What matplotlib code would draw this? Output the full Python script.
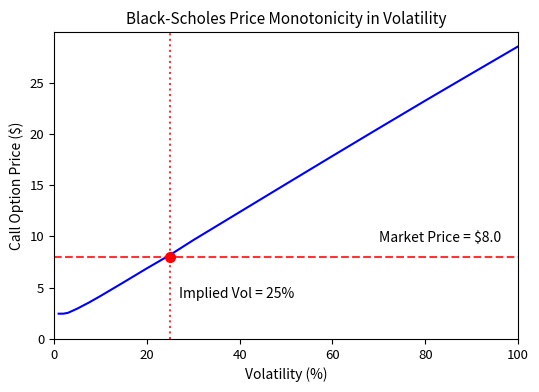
import matplotlib.pyplot as plt

plt.rcParams['font.family'] = ['Noto Sans CJK JP', 'DejaVu Sans']

# values
vol = [1, 2, 3, 5, 7.5, 10, 15, 20, 25, 30, 40, 50, 60, 70, 80, 90, 100]
price = [2.47, 2.47, 2.55, 2.96, 3.55, 4.19, 5.53, 6.89, 8.2, 9.64, 12.38, 15.12,
         17.85, 20.56, 23.25, 25.9, 28.54]
market_price = 8.0
implied_vol = 25

fig = plt.figure(figsize=(5.39, 3.92), dpi=100)
ax = fig.add_axes([54 / 539, 53 / 392, 464 / 539, 307 / 392])
ax.plot(vol, price, 'b-')
ax.axhline(market_price, color='r', linestyle='--', alpha=0.8)
ax.axvline(implied_vol, color='r', linestyle=':', alpha=0.8)
ax.plot(implied_vol, market_price, 'ro', markersize=7)
ax.text(70, market_price + 1.5, 'Market Price = $' + str(market_price), fontsize=10)
ax.text(implied_vol + 2, market_price / 2, 'Implied Vol = ' + str(implied_vol) + '%', fontsize=10)
ax.set_xlim(0, 100)
ax.set_ylim(0, 29.95)
ax.set_title('Black-Scholes Price Monotonicity in Volatility', fontsize=11)
ax.set_xlabel('Volatility (%)', fontsize=10)
ax.set_ylabel('Call Option Price ($)', fontsize=10)
ax.tick_params(labelsize=9.5)
fig.savefig('out.png')
